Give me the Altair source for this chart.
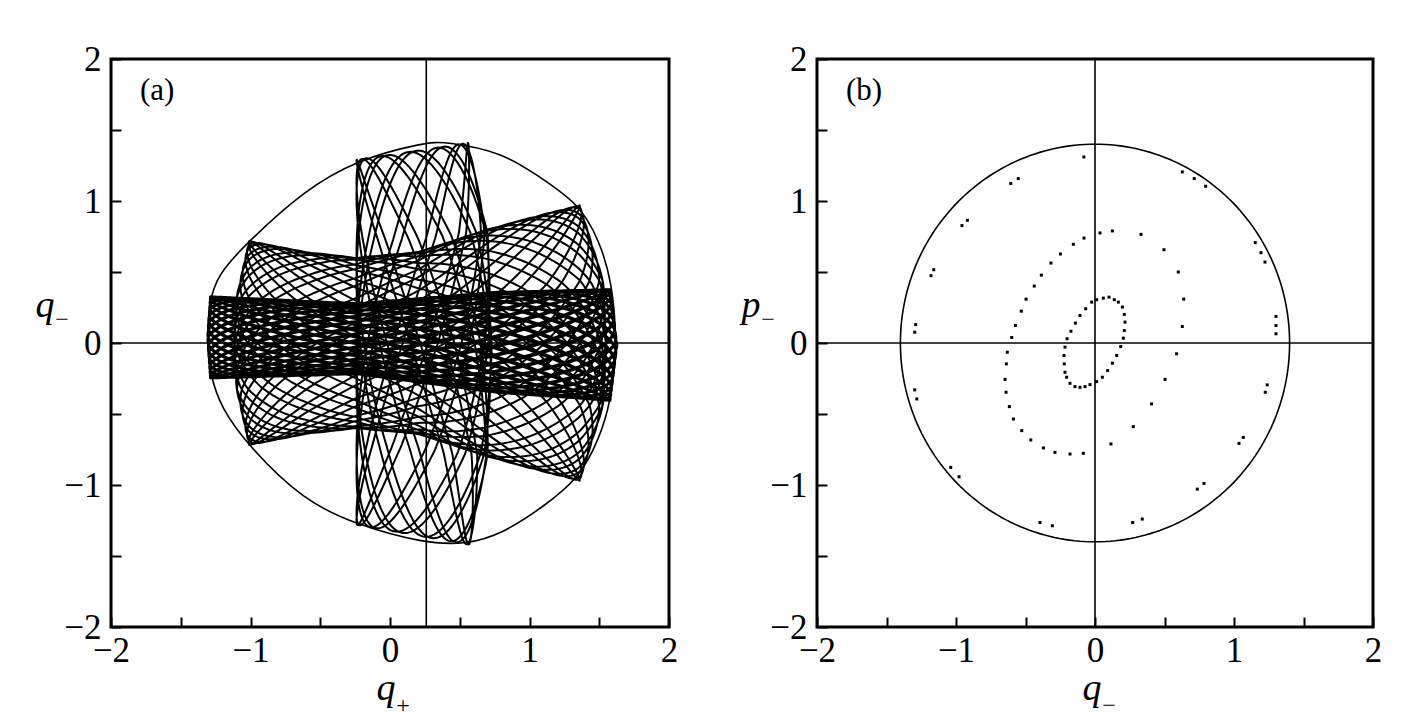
import numpy as np
import pandas as pd
import altair as alt

FONT = "Liberation Serif"

# ---------------- panel (a): energy boundary ----------------
bnd_x = [-1.31, -1.30, -1.24, -1.01, -0.62, -0.24, 0.24, 0.40, 0.81, 1.04, 1.36, 1.50, 1.59, 1.63,
         1.58, 1.50, 1.36, 1.09, 0.81, 0.55, 0.24, -0.24, -0.62, -1.01, -1.21, -1.29]
bnd_y = [0.00, 0.27, 0.48, 0.72, 1.07, 1.29, 1.41, 1.42, 1.34, 1.19, 0.98, 0.72, 0.44, 0.00,
         -0.43, -0.67, -0.95, -1.16, -1.34, -1.42, -1.41, -1.28, -1.11, -0.73, -0.46, -0.22]

# vertical band (edges)
V_left_x = -0.24
V_right_v = [-1.0, -0.55, 0.0, 0.55, 1.0]
V_right_x = [0.57, 0.70, 0.73, 0.70, 0.56]
V_edge_x = [-0.24, 0.57]
V_top_y = [1.29, 1.41]
V_bot_y = [-1.28, -1.42]
V_cycles = [11, 12]

# wide band with wings
W_end_v = [-1.0, -0.45, 0.0, 0.45, 1.0]
W_left_x = [-1.01, -1.10, -1.12, -1.10, -1.01]
W_right_x = [1.36, 1.53, 1.55, 1.53, 1.36]
W_env_x = [-1.02, -0.60, -0.24, 0.20, 0.70, 1.00, 1.36]
W_env_y = [0.72, 0.64, 0.60, 0.64, 0.80, 0.88, 0.97]
W_cycles = [20, 21]

# dense horizontal band
H_end_v = [-1.0, 0.0, 1.0]
H_left_x = [-1.29, -1.31, -1.29]
H_right_x = [1.58, 1.63, 1.58]
H_edge_x = [-1.31, -0.24, 0.76, 1.62]
H_top_y = [0.33, 0.28, 0.36, 0.38]
H_bot_y = [-0.25, -0.22, -0.35, -0.41]
H_cycles = [34, 35]

cross_a_x = [0.26]
cross_a_y = [0.0]

# ---------------- panel (b): surface of section points ----------------
pts_b_x = [-0.08, -0.606, -0.552, -0.957, -0.918, -1.18, -1.16, -1.297, -1.29, -1.297, -1.282,
           -1.038, -0.978, -0.396, -0.307, 0.271, 0.340, 0.736, 0.784, 1.036, 1.067, 1.225, 1.239,
           1.302, 1.302, 1.302, 1.153, 1.194, 1.223, 0.628, 0.714, 0.796,
           -0.079, -0.156, -0.249, -0.317, -0.386, -0.437, -0.496, -0.530, -0.573, -0.599, -0.631,
           -0.638, -0.647, -0.640, -0.616, -0.587, -0.527, -0.462, -0.371, -0.288, -0.180, -0.084,
           0.115, 0.275, 0.407, 0.504, 0.587, 0.628, 0.638, 0.599, 0.496, 0.331, 0.125, 0.036,
           -0.024, -0.067, -0.108, -0.141, -0.173, -0.201, -0.216, -0.223, -0.221, -0.216, -0.204,
           -0.180, -0.144, -0.108, -0.072, -0.036, 0.012, 0.053, 0.091, 0.125, 0.156, 0.185, 0.204,
           0.211, 0.216, 0.211, 0.197, 0.168, 0.139, 0.101, 0.060, 0.012]
pts_b_y = [1.31, 1.123, 1.158, 0.827, 0.864, 0.474, 0.516, 0.076, 0.13, -0.330, -0.394,
           -0.876, -0.942, -1.264, -1.287, -1.264, -1.240, -1.029, -0.989, -0.707, -0.665, -0.347, -0.295,
           0.065, 0.123, 0.187, 0.707, 0.636, 0.570, 1.205, 1.158, 1.104,
           0.739, 0.695, 0.627, 0.563, 0.478, 0.401, 0.309, 0.224, 0.123, 0.039, -0.065,
           -0.147, -0.256, -0.347, -0.448, -0.535, -0.617, -0.683, -0.739, -0.770, -0.782, -0.777,
           -0.711, -0.589, -0.429, -0.256, -0.076, 0.116, 0.309, 0.500, 0.657, 0.765, 0.789, 0.775,
           0.288, 0.241, 0.194, 0.140, 0.083, 0.030, -0.029, -0.088, -0.147, -0.206, -0.241,
           -0.284, -0.307, -0.312, -0.307, -0.293, -0.272, -0.241, -0.194, -0.142, -0.088, -0.025, 0.034,
           0.088, 0.147, 0.201, 0.253, 0.288, 0.305, 0.323, 0.316, 0.305]
circle_b_r = 1.40
cross_b = [0.0]

tick_vals = [-2, -1.5, -1, -0.5, 0, 0.5, 1, 1.5, 2]

# ---------------- build trajectory tables ----------------
def mesh(cycles, phase, per=110):
    p, q = cycles
    t = np.linspace(0, 2 * np.pi, p * per * 2 + 1)
    return np.sin(p * t), np.sin(q * t + phase)

def band_V():
    u, v = mesh(V_cycles, 0.35)
    R = np.interp(v, V_right_v, V_right_x)
    x = V_left_x + (u + 1) / 2 * (R - V_left_x)
    top = np.interp(x, V_edge_x, V_top_y)
    bot = np.interp(x, V_edge_x, V_bot_y)
    y = (top + bot) / 2 + v * (top - bot) / 2
    return x, y

def band_W():
    u, v = mesh(W_cycles, 0.3)
    L = np.interp(v, W_end_v, W_left_x)
    R = np.interp(v, W_end_v, W_right_x)
    x = L + (u + 1) / 2 * (R - L)
    y = v * np.interp(x, W_env_x, W_env_y)
    return x, y

def band_H():
    u, v = mesh(H_cycles, 0.25)
    L = np.interp(v, H_end_v, H_left_x)
    R = np.interp(v, H_end_v, H_right_x)
    x = L + (u + 1) / 2 * (R - L)
    top = np.interp(x, H_edge_x, H_top_y)
    bot = np.interp(x, H_edge_x, H_bot_y)
    y = (top + bot) / 2 + v * (top - bot) / 2
    return x, y

frames = []
for name, fn in [("H", band_H), ("W", band_W), ("V", band_V)]:
    x, y = fn()
    frames.append(pd.DataFrame({"x": np.round(x, 4), "y": np.round(y, 4), "s": name,
                                "i": np.arange(len(x))}))
traj = pd.concat(frames, ignore_index=True)

bnd = pd.DataFrame({"x": bnd_x, "y": bnd_y, "i": range(len(bnd_x))})
th = np.linspace(0, 2 * np.pi, 241)
circ = pd.DataFrame({"x": circle_b_r * np.cos(th), "y": circle_b_r * np.sin(th), "i": range(len(th))})
ptsb = pd.DataFrame({"x": pts_b_x, "y": pts_b_y})

W_, H_ = 558, 568

label_expr = ("datum.value % 1 === 0 ? (datum.value < 0 ? '\u2212' + (-datum.value) : '' + datum.value) : ''")

def axis(pad):
    return alt.Axis(values=tick_vals, labelExpr=label_expr, offset=-10, tickSize=10, tickWidth=2,
                    tickColor="black", domain=False, grid=False, labelFont=FONT, labelFontSize=35,
                    labelColor="black", labelPadding=pad, title=None, labelFlush=False, labelOverlap=False)

xs = alt.Scale(domain=[-2, 2], nice=False, zero=False)
ys = alt.Scale(domain=[-2, 2], nice=False, zero=False)

one = pd.DataFrame({"a": [0]})

def texts(tag, main, sub):
    return [
        alt.Chart(one).mark_text(text=tag, font=FONT, fontSize=31, align="left", baseline="middle",
                                 color="black").encode(x=alt.value(29), y=alt.value(32)),
        alt.Chart(one).mark_text(text=main[0], font=FONT, fontSize=38, fontStyle="italic",
                                 align="center", baseline="alphabetic", color="black")
        .encode(x=alt.value(-66), y=alt.value(258)),
        alt.Chart(one).mark_text(text=main[1], font=FONT, fontSize=24, align="center",
                                 baseline="middle", color="black")
        .encode(x=alt.value(-49), y=alt.value(261)),
        alt.Chart(one).mark_text(text=sub[0], font=FONT, fontSize=38, fontStyle="italic",
                                 align="center", baseline="alphabetic", color="black")
        .encode(x=alt.value(275), y=alt.value(641)),
        alt.Chart(one).mark_text(text=sub[1], font=FONT, fontSize=24, align="center",
                                 baseline="middle", color="black")
        .encode(x=alt.value(292), y=alt.value(647)),
    ]

# panel (a)
a_bnd = alt.Chart(bnd).mark_line(color="black", strokeWidth=1.6, interpolate="basis-closed").encode(
    x=alt.X("x:Q", scale=xs, axis=axis(6)), y=alt.Y("y:Q", scale=ys, axis=axis(10)), order="i:Q")
a_traj = alt.Chart(traj).mark_line(color="black", strokeWidth=2.0).encode(
    x="x:Q", y="y:Q", detail="s:N", order="i:Q")
a_h = alt.Chart(pd.DataFrame({"y": cross_a_y})).mark_rule(color="black", strokeWidth=1.6).encode(y="y:Q")
a_v = alt.Chart(pd.DataFrame({"x": cross_a_x})).mark_rule(color="black", strokeWidth=1.6).encode(x="x:Q")
panel_a = alt.layer(a_bnd, a_traj, a_h, a_v, *texts("(a)", ["q", "\u2212"], ["q", "+"])).properties(
    width=W_, height=H_)

# panel (b)
b_circ = alt.Chart(circ).mark_line(color="black", strokeWidth=1.6).encode(
    x=alt.X("x:Q", scale=xs, axis=axis(6)), y=alt.Y("y:Q", scale=ys, axis=axis(10)), order="i:Q")
b_pts = alt.Chart(ptsb).mark_square(color="black", size=9, opacity=1).encode(x="x:Q", y="y:Q")
b_h = alt.Chart(pd.DataFrame({"y": cross_b})).mark_rule(color="black", strokeWidth=1.6).encode(y="y:Q")
b_v = alt.Chart(pd.DataFrame({"x": cross_b})).mark_rule(color="black", strokeWidth=1.6).encode(x="x:Q")
panel_b = alt.layer(b_circ, b_pts, b_h, b_v, *texts("(b)", ["p", "\u2212"], ["q", "\u2212"])).properties(
    width=556, height=H_)

chart = alt.hconcat(panel_a, panel_b, spacing=60).properties(
    padding={"left": 26, "top": 32, "right": 5, "bottom": 5}
).configure_view(stroke="black", strokeWidth=3)

chart.save("out.html", embed_options={"renderer": "svg", "actions": False})
